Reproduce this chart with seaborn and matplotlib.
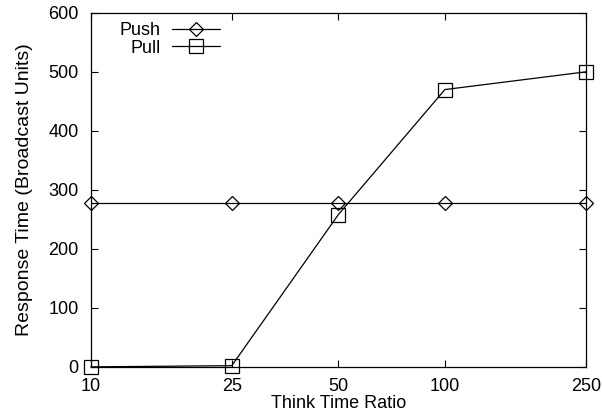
import numpy as np
import pandas as pd
import seaborn as sns
import matplotlib.pyplot as plt
from matplotlib.ticker import FixedLocator, NullLocator, FixedFormatter

ratio = [10, 25, 50, 100, 250]
push = [278, 278, 278, 278, 278]
pull = [0, 2, 258, 470, 500]

df = pd.DataFrame({
    'ratio': ratio * 2,
    'time': push + pull,
    'scheme': ['Push'] * 5 + ['Pull'] * 5,
})

sns.set_style('ticks')
plt.rcParams['font.family'] = ['Liberation Sans', 'DejaVu Sans']
plt.rcParams['xtick.direction'] = 'in'
plt.rcParams['ytick.direction'] = 'in'
plt.rcParams['text.color'] = 'black'
plt.rcParams['axes.labelcolor'] = 'black'
plt.rcParams['xtick.color'] = 'black'
plt.rcParams['ytick.color'] = 'black'

fig, ax = plt.subplots(figsize=(6.02, 4.15), dpi=100)
fig.subplots_adjust(left=0.151, right=0.973, top=0.969, bottom=0.116)

sns.lineplot(data=df, x='ratio', y='time', hue='scheme', style='scheme',
             markers={'Push': 'D', 'Pull': 's'}, dashes=False,
             palette={'Push': 'black', 'Pull': 'black'},
             markersize=10, markerfacecolor='none', markeredgecolor='black',
             markeredgewidth=0.9, linewidth=0.9, clip_on=False, ax=ax)
for line in ax.lines:
    if line.get_marker() == 'D':
        line.set_markersize(7.5)

ax.set_xscale('log')
ax.set_xlim(10, 250)
ax.set_ylim(0, 600)
ax.xaxis.set_major_locator(FixedLocator(ratio))
ax.xaxis.set_major_formatter(FixedFormatter([str(r) for r in ratio]))
ax.xaxis.set_minor_locator(NullLocator())
ax.set_yticks(range(0, 601, 100))
ax.tick_params(top=True, right=True, length=5, width=0.8, labelsize=13)
ax.tick_params(axis='x', pad=8)
ax.tick_params(axis='y', pad=9)
for s in ax.spines.values():
    s.set_visible(True)
    s.set_linewidth(0.9)
    s.set_color('black')

ax.set_xlabel('Think Time Ratio', fontsize=13, labelpad=0)
ax.set_ylabel('Response Time (Broadcast Units)', fontsize=14, labelpad=11)

leg = ax.legend(loc='upper left', frameon=False, markerfirst=False, fontsize=13,
                handlelength=2.7, handletextpad=0.6, labelspacing=0.05,
                borderaxespad=0.1, bbox_to_anchor=(0.04, 1.0))
for h in leg.legend_handles:
    h.set_markerfacecolor('none')
    h.set_markeredgecolor('black')

fig.savefig('out.png', dpi=100)
